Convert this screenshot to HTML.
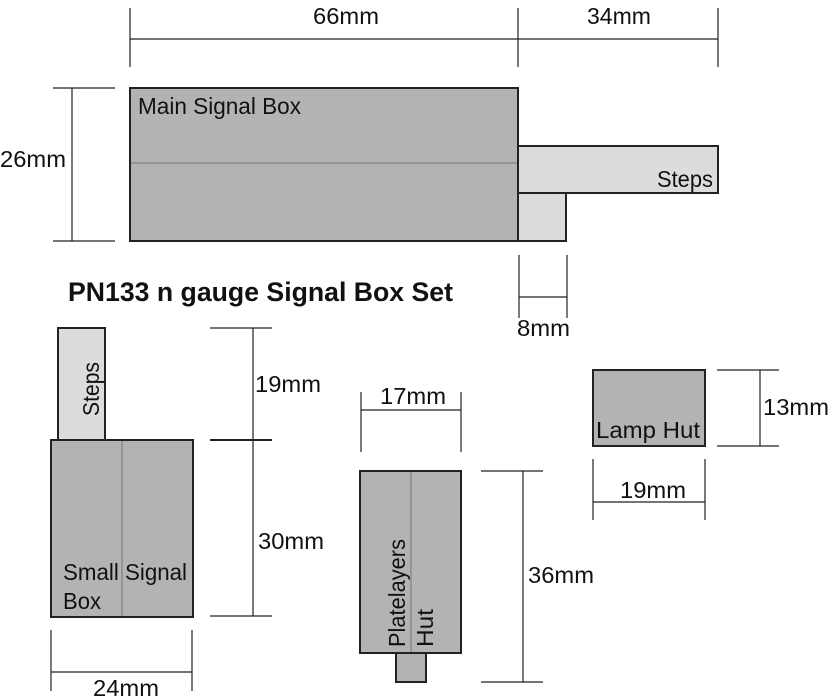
<!DOCTYPE html>
<html><head><style>html,body{margin:0;padding:0;background:#fff}svg{display:block}text{font-family:"Liberation Sans",sans-serif;fill:#111}</style></head><body>
<svg width="829" height="700" viewBox="0 0 829 700" xmlns="http://www.w3.org/2000/svg">
<g stroke="#222" stroke-width="1.2" fill="none">
<line x1="130" y1="8" x2="130" y2="67"/><line x1="518" y1="8" x2="518" y2="67"/><line x1="718" y1="8" x2="718" y2="67"/>
<line x1="130" y1="39" x2="718" y2="39"/>
<line x1="53" y1="88" x2="115" y2="88"/><line x1="53" y1="241" x2="115" y2="241"/><line x1="72" y1="88" x2="72" y2="241"/>
<line x1="519" y1="255" x2="519" y2="318"/><line x1="567" y1="255" x2="567" y2="318"/><line x1="519" y1="297" x2="567" y2="297"/>
<line x1="210" y1="328" x2="272" y2="328"/><line x1="210" y1="440" x2="272" y2="440" stroke-width="2"/><line x1="210" y1="616" x2="272" y2="616"/><line x1="253" y1="328" x2="253" y2="616"/>
<line x1="51" y1="630" x2="51" y2="691"/><line x1="192" y1="630" x2="192" y2="691"/><line x1="51" y1="672" x2="192" y2="672"/>
<line x1="361" y1="392" x2="361" y2="452"/><line x1="461" y1="392" x2="461" y2="452"/><line x1="361" y1="410" x2="461" y2="410"/>
<line x1="481" y1="471" x2="543" y2="471"/><line x1="481" y1="682" x2="543" y2="682"/><line x1="523" y1="471" x2="523" y2="682"/>
<line x1="717" y1="370" x2="779" y2="370"/><line x1="717" y1="446" x2="779" y2="446"/><line x1="760" y1="370" x2="760" y2="446"/>
<line x1="593" y1="459" x2="593" y2="520"/><line x1="705" y1="459" x2="705" y2="520"/><line x1="593" y1="502" x2="705" y2="502"/>
</g>
<g stroke="#222" stroke-width="2">
<rect x="518" y="146" width="200" height="47" fill="#dcdcdc"/>
<rect x="518" y="193" width="48" height="48" fill="#dcdcdc"/>
<rect x="130" y="88" width="388" height="153" fill="#b3b3b3"/>
<rect x="58" y="328" width="47" height="112" fill="#dcdcdc"/>
<rect x="51" y="440" width="142" height="177" fill="#b3b3b3"/>
<rect x="396" y="653" width="30" height="29" fill="#b3b3b3"/>
<rect x="360" y="471" width="101" height="182" fill="#b3b3b3"/>
<rect x="593" y="370" width="112" height="76" fill="#b3b3b3"/>
</g>
<g stroke="#777" stroke-width="1">
<line x1="131" y1="163" x2="517" y2="163"/>
<line x1="122" y1="441" x2="122" y2="616"/>
<line x1="411" y1="472" x2="411" y2="652"/>
</g>
<g font-size="23">
<text x="313" y="24" textLength="66" lengthAdjust="spacingAndGlyphs">66mm</text>
<text x="587" y="24" textLength="64" lengthAdjust="spacingAndGlyphs">34mm</text>
<text x="0" y="167" textLength="66" lengthAdjust="spacingAndGlyphs">26mm</text>
<text x="138" y="114" textLength="163" lengthAdjust="spacingAndGlyphs">Main Signal Box</text>
<text x="657" y="187" textLength="56" lengthAdjust="spacingAndGlyphs">Steps</text>
<text x="517" y="336" textLength="53" lengthAdjust="spacingAndGlyphs">8mm</text>
<text x="255" y="392" textLength="66" lengthAdjust="spacingAndGlyphs">19mm</text>
<text x="258" y="549" textLength="66" lengthAdjust="spacingAndGlyphs">30mm</text>
<text x="63" y="580" textLength="124" lengthAdjust="spacingAndGlyphs">Small Signal</text>
<text x="63" y="609" textLength="38" lengthAdjust="spacingAndGlyphs">Box</text>
<text x="93" y="696" textLength="66" lengthAdjust="spacingAndGlyphs">24mm</text>
<text x="380" y="404" textLength="66" lengthAdjust="spacingAndGlyphs">17mm</text>
<text x="528" y="583" textLength="66" lengthAdjust="spacingAndGlyphs">36mm</text>
<text x="596" y="438" textLength="104" lengthAdjust="spacingAndGlyphs">Lamp Hut</text>
<text x="763" y="415" textLength="66" lengthAdjust="spacingAndGlyphs">13mm</text>
<text x="620" y="498" textLength="66" lengthAdjust="spacingAndGlyphs">19mm</text>
<text transform="translate(99,416) rotate(-90)" textLength="54" lengthAdjust="spacingAndGlyphs">Steps</text>
<text transform="translate(405,647) rotate(-90)" textLength="108" lengthAdjust="spacingAndGlyphs">Platelayers</text>
<text transform="translate(433,647) rotate(-90)" textLength="38" lengthAdjust="spacingAndGlyphs">Hut</text>
</g>
<text x="68" y="301" font-size="27" font-weight="bold" textLength="385" lengthAdjust="spacingAndGlyphs">PN133 n gauge Signal Box Set</text>
</svg>
</body></html>
